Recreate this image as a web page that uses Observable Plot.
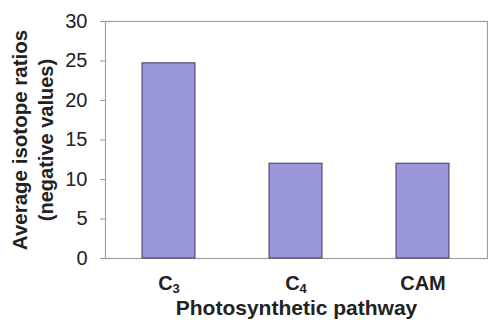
<!DOCTYPE html>
<html>
<head>
<meta charset="utf-8">
<script src="https://cdn.jsdelivr.net/npm/d3@7"></script>
<script src="https://cdn.jsdelivr.net/npm/@observablehq/plot@0.6"></script>
<style>
  html, body { margin: 0; padding: 0; background: #fff; }
  svg { display: block; }
</style>
</head>
<body>
<div id="chart"></div>
<script>
const categories = ["C3", "C4", "CAM"];
const values = [24.7, 12.0, 12.0];
const yTicks = [0, 5, 10, 15, 20, 25, 30];

const data = categories.map((c, i) => ({pathway: c, value: values[i]}));

const chart = Plot.plot({
  width: 488,
  height: 322,
  marginLeft: 105,
  marginRight: 1,
  marginTop: 21,
  marginBottom: 64,
  style: {fontFamily: "Arial, 'Liberation Sans', sans-serif", background: "#fff"},
  x: {domain: categories, paddingInner: 0.58, paddingOuter: 0.29},
  y: {domain: [0, 30]},
  marks: [
    Plot.frame({stroke: "#a0a0a0", strokeWidth: 1.2}),
    Plot.barY(data, {x: "pathway", y: "value", fill: "#9a96da", stroke: "#3a3a5a", strokeWidth: 1}),
    Plot.axisY({ticks: yTicks, tickSize: 5, tickPadding: 13, fontSize: 20, stroke: "#999", fill: "#222", label: null}),
    Plot.axisX({tickSize: 0, tickPadding: 17, fontSize: 20, fontWeight: "bold", fill: "#222", label: null}),
    Plot.text(["Photosynthetic pathway"], {frameAnchor: "bottom", dy: 56, fontSize: 21, fontWeight: "bold", fill: "#222"}),
    Plot.text(["Average isotope ratios"], {frameAnchor: "left", textAnchor: "middle", dx: -85, rotate: -90, fontSize: 20.5, fontWeight: "bold", fill: "#222"}),
    Plot.text(["(negative values)"], {frameAnchor: "left", textAnchor: "middle", dx: -59, rotate: -90, fontSize: 20, fontWeight: "bold", fill: "#222"})
  ]
});
// render subscripts in the C3 / C4 tick labels
d3.select(chart).selectAll("text").each(function() {
  const t = d3.select(this);
  const s = t.text();
  const m = /^C(\d)$/.exec(s);
  if (m) {
    t.text("C");
    t.append("tspan").attr("dy", "0.25em").attr("font-size", 13).text(m[1]);
  }
});
document.getElementById("chart").appendChild(chart);
</script>
</body>
</html>
